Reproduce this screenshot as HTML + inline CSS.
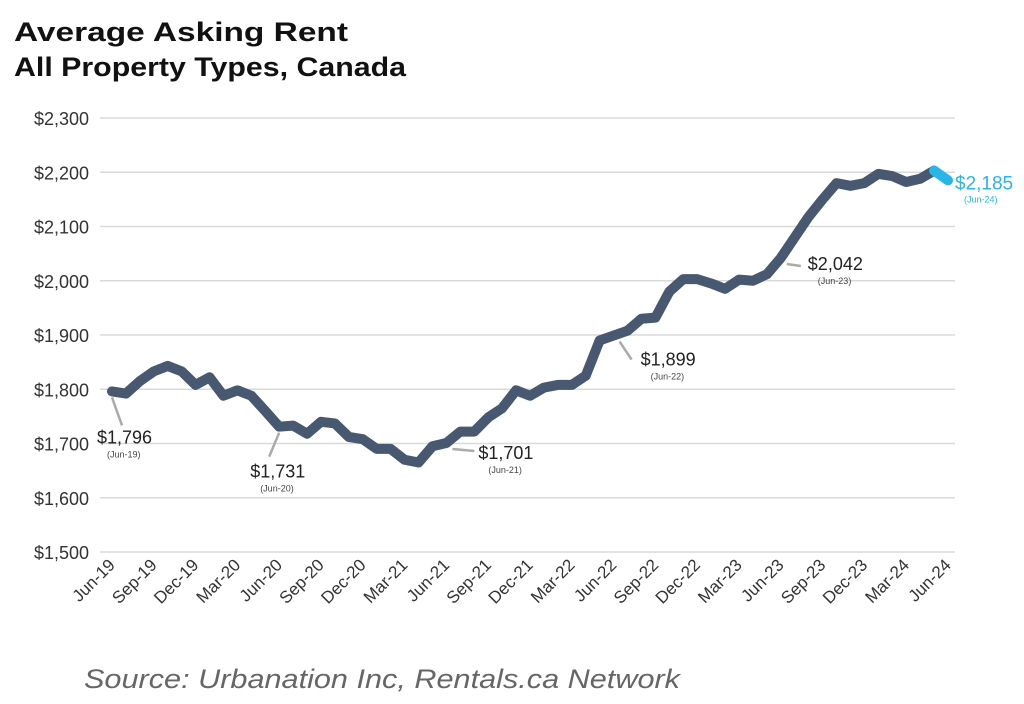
<!DOCTYPE html>
<html><head><meta charset="utf-8"><style>
body{margin:0;background:#fff;width:1024px;height:699px;overflow:hidden;font-family:"Liberation Sans",sans-serif}
</style></head><body>
<svg width="1024" height="699" xmlns="http://www.w3.org/2000/svg">
<text x="14" y="41" font-size="27" font-weight="bold" fill="#111" textLength="334" lengthAdjust="spacingAndGlyphs">Average Asking Rent</text>
<text x="14" y="76" font-size="27" font-weight="bold" fill="#111" textLength="392" lengthAdjust="spacingAndGlyphs">All Property Types, Canada</text>
<g id="grid"></g><g id="ylab"></g><g id="xlab"></g><g id="series"></g><g id="ann"></g>
<text x="84" y="688" font-size="27" font-style="italic" fill="#666" textLength="596" lengthAdjust="spacingAndGlyphs">Source: Urbanation Inc, Rentals.ca Network</text>
</svg>
<script>
const values=[1796,1792,1815,1833,1843,1833,1808,1822,1788,1798,1788,1760,1731,1733,1718,1740,1737,1712,1708,1690,1690,1670,1665,1695,1701,1722,1722,1748,1765,1798,1788,1803,1808,1808,1825,1890,1899,1908,1930,1932,1980,2003,2003,1995,1985,2002,2000,2012,2042,2080,2118,2150,2180,2175,2180,2197,2193,2182,2188,2203,2185];
const xLabels=["Jun-19","Sep-19","Dec-19","Mar-20","Jun-20","Sep-20","Dec-20","Mar-21","Jun-21","Sep-21","Dec-21","Mar-22","Jun-22","Sep-22","Dec-22","Mar-23","Jun-23","Sep-23","Dec-23","Mar-24","Jun-24"];
const yTicks=[1500,1600,1700,1800,1900,2000,2100,2200,2300];
const annIdx=[0,12,24,36,48];
const annDate=["(Jun-19)","(Jun-20)","(Jun-21)","(Jun-22)","(Jun-23)"];
const NS="http://www.w3.org/2000/svg";
const X=i=>112+i*(836/60), Y=v=>552-(v-1500)*(434/800);
function mk(t,a,p){const e=document.createElementNS(NS,t);for(const k in a)e.setAttribute(k,a[k]);document.getElementById(p).appendChild(e);return e;}
yTicks.forEach(v=>{
 const l=mk('line',{x1:100,x2:955,y1:Y(v),y2:Y(v),stroke:'#d9d9d9','stroke-width':1.5},'grid');
 
 
 const t=mk('text',{x:89,y:Y(v)+7,'text-anchor':'end','font-size':18,fill:'#333'},'ylab');t.textContent='$'+v.toLocaleString('en-US');
 
 
});
xLabels.forEach((s,k)=>{
 const x=X(k*3)+4,y=566;
 const t=mk('text',{x:x,y:y,'text-anchor':'end','font-size':17,fill:'#333',transform:`rotate(-45 ${x} ${y})`},'xlab');t.textContent=s;
 
 
});
const n=values.length;
let d=values.slice(0,n-1).map((v,i)=>(i?'L':'M')+X(i)+' '+Y(v)).join(' ');
const p=mk('path',{d:d,fill:'none',stroke:'#485870','stroke-width':10,'stroke-linejoin':'round','stroke-linecap':'round'},'series');


const p2=mk('path',{d:`M${X(n-2)} ${Y(values[n-2])} L${X(n-1)} ${Y(values[n-1])}`,fill:'none',stroke:'#29b5e8','stroke-width':10,'stroke-linecap':'round','stroke-linejoin':'round'},'series');


// [textDx, textDy, leaderEndDx, leaderEndDy]
const off=[[-15,52,10,34],[-29,51,-10,30],[32,16,28,8],[27,30,18,24],[27,12,20,8]];
annIdx.forEach((i,k)=>{
 const x=X(i),y=Y(values[i]),o=off[k];
 const l=mk('line',{x1:x+(o[0]>0?6:0),y1:y+6,x2:x+o[2],y2:y+o[3],stroke:'#aaa','stroke-width':2.5},'ann');
 
 
 const t=mk('text',{x:x+o[0],y:y+o[1],'font-size':18,fill:'#222'},'ann');t.textContent='$'+values[i].toLocaleString('en-US');
 
 
 const t2=mk('text',{x:x+o[0]+10,y:y+o[1]+14,'font-size':9,fill:'#444'},'ann');t2.textContent=annDate[k];
 
 
});
const lt=mk('text',{x:X(n-1)+7,y:Y(values[n-1])+9,'font-size':19,fill:'#29b5e8'},'ann');lt.textContent='$'+values[n-1].toLocaleString('en-US');


const ld=mk('text',{x:X(n-1)+16,y:Y(values[n-1])+22,'font-size':9,fill:'#29b5e8'},'ann');ld.textContent='(Jun-24)';


</script>
</body></html>
